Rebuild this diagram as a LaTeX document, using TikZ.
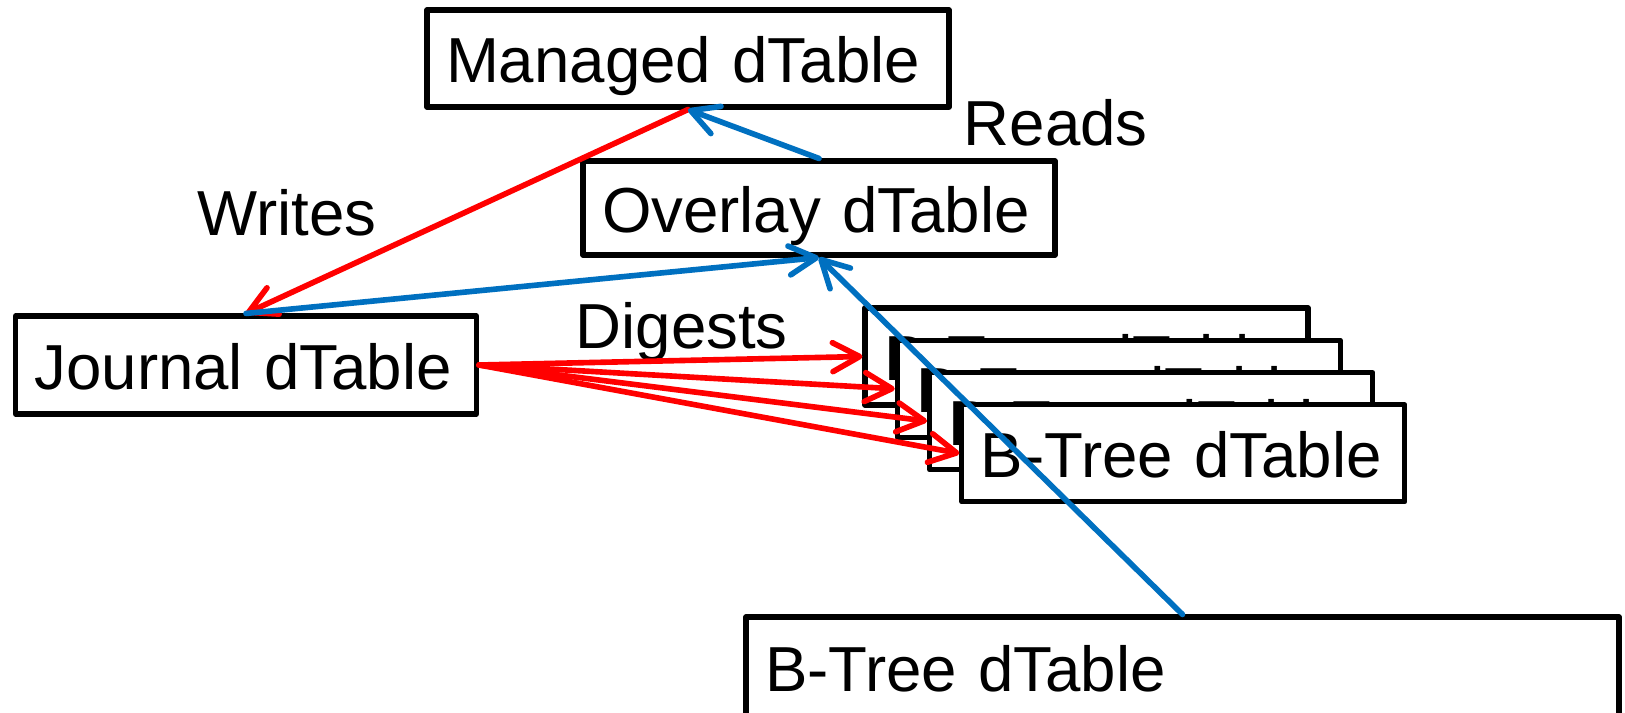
\documentclass[tikz,border=0pt]{standalone}
\usepackage{fontspec}
\setmainfont{Liberation Sans}
\usetikzlibrary{arrows.meta}
\definecolor{linkblue}{RGB}{0,112,192}
\definecolor{linkred}{RGB}{255,0,0}
\begin{document}
\begin{tikzpicture}[
  font=\fontsize{18.1pt}{21pt}\selectfont,
  tbox/.style={draw=black, line width=1.45pt, line join=round, fill=white,
    rectangle, align=left, inner xsep=0.19cm, inner ysep=0pt,
    text height=0.55cm, text depth=0.07cm, minimum height=0.97cm},
  lbl/.style={anchor=base west, inner sep=0pt},
  conn/.style={line width=1.6pt, line cap=round,
    -{Straight Barb[length=2.7mm,width=2.9mm,round]}},
  wr/.style={conn, draw=linkred},
  rd/.style={conn, draw=linkblue},
]
\useasboundingbox (0,0) rectangle (16.25,7.12);
\clip (0,0) rectangle (16.25,7.12);

% main tables
\node[tbox, text width=4.84cm] (man) at (6.88,6.535) {Managed dTable};
\node[tbox, text width=4.34cm, minimum height=0.94cm] (ov) at (8.19,5.04) {Overlay dTable};
\node[tbox, text width=4.23cm, minimum height=0.98cm] (jou) at (2.46,3.47) {Journal dTable};

% stack of B-Tree tables, back to front
\node[tbox, text width=4.05cm] (b1) at (10.865,3.555) {B-Tree dTable};
\node[tbox, text width=4.05cm] (b2) at (11.188,3.232) {B-Tree dTable};
\node[tbox, text width=4.05cm] (b3) at (11.511,2.909) {B-Tree dTable};
\node[tbox, text width=4.05cm] (b4) at (11.834,2.586) {B-Tree dTable};

% lower B-Tree table
\node[tbox, text width=8.35cm, minimum height=1.0cm] (bt) at (11.825,0.45) {B-Tree dTable};

% labels
\node[lbl] (lreads) at (9.63,5.67) {Reads};
\node[lbl] (lwrites) at (1.97,4.77) {Writes};
\node[lbl] (ldig) at (5.75,3.64) {Digests};

% writes and digests
\draw[wr] (man.south) -- (jou.north);
\draw[wr] (jou.east) -- (b1.west);
\draw[wr] (jou.east) -- (b2.west);
\draw[wr] (jou.east) -- (b3.west);
\draw[wr] (jou.east) -- (b4.west);

% reads
\draw[rd] (ov.north) -- (man.south);
\draw[rd] (jou.north) -- (ov.south);
\draw[rd] (bt.north) -- (ov.south);
\end{tikzpicture}
\end{document}
